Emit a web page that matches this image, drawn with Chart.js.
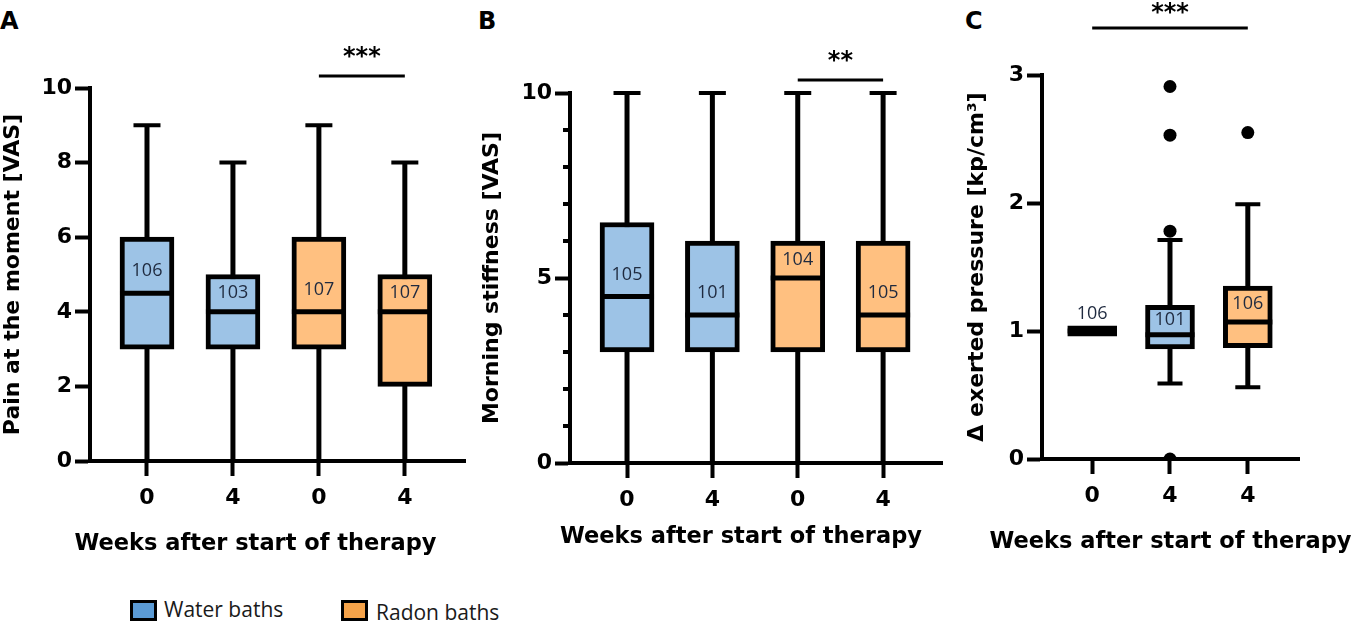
<!DOCTYPE html>
<html>
<head>
<meta charset="utf-8">
<script src="https://cdn.jsdelivr.net/npm/chart.js@4.4.1/dist/chart.umd.min.js"></script>
<style>
    body { margin: 0; background: #fff; width: 1358px; height: 634px; position: relative; overflow: hidden; }
    .panel { position: absolute; top: 0; height: 570px; }
    .letter { position: absolute; top: 9px; font: bold 24px "DejaVu Sans"; line-height: 24px; color: #000; }
    .key { position: absolute; font: 21px "Open Sans"; color: #1a1a1a; line-height: 24px; }
    .swatch { position: absolute; width: 27px; height: 21px; box-sizing: border-box; border: 3px solid #000; }
</style>
</head>
<body>

<div class="letter" style="left:0px">A</div>
<div class="letter" style="left:478px">B</div>
<div class="letter" style="left:965px">C</div>

<div class="panel" style="left:0px;width:475px"><canvas id="chart-a"></canvas></div>
<div class="panel" style="left:479px;width:473px"><canvas id="chart-b"></canvas></div>
<div class="panel" style="left:964px;width:394px"><canvas id="chart-c"></canvas></div>

<div class="swatch" style="left:130px;top:600px;background:#5b9bd5"></div>
<div class="key" style="left:164px;top:597px">Water baths</div>
<div class="swatch" style="left:341px;top:600px;background:#f5a34a"></div>
<div class="key" style="left:376px;top:600px">Radon baths</div>

<script>

/**
 * Box plots: pain, morning stiffness, exerted pressure
 *
 */

// panel A - pain at the moment
var weeksA = ["0", "4", "0", "4"];
var groupsA = ["water", "water", "radon", "radon"];
var minA = [0, 0, 0, 0];
var q1A = [3, 3, 3, 2];
var medA = [4.5, 4, 4, 4];
var q3A = [6, 5, 6, 5];
var maxA = [9, 8, 9, 8];
var nA = [106, 103, 107, 107];
var ticksA = [0, 2, 4, 6, 8, 10];
var sigA = [2, 3, "***"];

// panel B - morning stiffness
var weeksB = ["0", "4", "0", "4"];
var groupsB = ["water", "water", "radon", "radon"];
var minB = [0, 0, 0, 0];
var q1B = [3, 3, 3, 3];
var medB = [4.5, 4, 5, 4];
var q3B = [6.5, 6, 6, 6];
var maxB = [10, 10, 10, 10];
var nB = [105, 101, 104, 105];
var ticksB = [0, 5, 10];
var minorTicksB = [1, 2, 3, 4, 6, 7, 8, 9];
var sigB = [2, 3, "**"];

// panel C - delta exerted pressure
var weeksC = ["0", "4", "4"];
var groupsC = ["both", "water", "radon"];
var minC = [1, 0.59, 0.56];
var q1C = [0.96, 0.86, 0.87];
var medC = [1, 0.97, 1.07];
var q3C = [1.04, 1.2, 1.35];
var maxC = [1, 1.71, 1.99];
var nC = [106, 101, 106];
var outlierXC = [1, 1, 1, 1, 2];
var outlierYC = [2.91, 2.53, 1.78, 0, 2.55];
var ticksC = [0, 1, 2, 3];
var sigC = [0, 2, "***"];

var fills = { water: "#9dc3e6", radon: "#ffc080", both: "#000000" };

Chart.defaults.font.family = "DejaVu Sans";
Chart.defaults.color = "#000";

var boxParts = {
    id: "boxParts",
    beforeDatasetsDraw: function (chart) {
        var o = chart.options.plugins.boxParts;
        var ctx = chart.ctx, x = chart.scales.x, y = chart.scales.y;
        ctx.save();
        ctx.strokeStyle = "#000";
        o.med.forEach(function (m, i) {
            var cx = x.getPixelForValue(i);
            var lo = y.getPixelForValue(o.min[i]);
            var hi = y.getPixelForValue(o.max[i]);
            ctx.lineWidth = 5;
            ctx.beginPath();
            ctx.moveTo(cx, lo);
            ctx.lineTo(cx, hi);
            ctx.stroke();
            ctx.lineWidth = 4;
            ctx.beginPath();
            ctx.moveTo(cx - o.cap / 2, lo);
            ctx.lineTo(cx + o.cap / 2, lo);
            ctx.moveTo(cx - o.cap / 2, hi);
            ctx.lineTo(cx + o.cap / 2, hi);
            ctx.stroke();
        });
        ctx.restore();
    },
    afterDatasetsDraw: function (chart) {
        var o = chart.options.plugins.boxParts;
        var ctx = chart.ctx, x = chart.scales.x, y = chart.scales.y;
        var area = chart.chartArea;
        ctx.save();

        // medians and n labels
        o.med.forEach(function (m, i) {
            var cx = x.getPixelForValue(i);
            var my = y.getPixelForValue(m);
            var ty = y.getPixelForValue(o.q3[i]);
            ctx.strokeStyle = "#000";
            ctx.lineWidth = 5;
            ctx.beginPath();
            ctx.moveTo(cx - o.box / 2, my);
            ctx.lineTo(cx + o.box / 2, my);
            ctx.stroke();

            var gap = my - ty;
            var ly = gap < 10 ? my - 17 : my - Math.min(gap / 2, 22);
            ctx.fillStyle = "#1f2a3f";
            ctx.font = "18px 'Open Sans'";
            ctx.textAlign = "center";
            ctx.textBaseline = "middle";
            ctx.fillText(String(o.n[i]), cx, ly);
        });

        // minor y ticks
        (o.minor || []).forEach(function (v) {
            var py = y.getPixelForValue(v);
            ctx.strokeStyle = "#000";
            ctx.lineWidth = 4;
            ctx.beginPath();
            ctx.moveTo(area.left - 7, py);
            ctx.lineTo(area.left, py);
            ctx.stroke();
        });

        // significance bar
        var x1 = x.getPixelForValue(o.sig[0]);
        var x2 = x.getPixelForValue(o.sig[1]);
        var by = area.top - o.sigGap;
        ctx.strokeStyle = "#000";
        ctx.lineWidth = 3;
        ctx.beginPath();
        ctx.moveTo(x1, by);
        ctx.lineTo(x2, by);
        ctx.stroke();
        ctx.fillStyle = "#000";
        ctx.font = "bold 24px 'DejaVu Sans'";
        ctx.textAlign = "center";
        ctx.textBaseline = "alphabetic";
        ctx.fillText(o.sig[2], (x1 + x2) / 2, by - o.starGap);

        // x axis title
        ctx.font = "bold 22.5px 'DejaVu Sans'";
        ctx.fillText("Weeks after start of therapy", (area.left + area.right) / 2 + o.titleDx, area.bottom + o.titleDy);
        ctx.restore();
    }
};

function boxChart(id, p) {
    var boxes = p.weeks.map(function (w, i) {
        return { x: i, y: [p.q1[i], p.q3[i]] };
    });
    var outliers = (p.outX || []).map(function (v, i) {
        return { x: v, y: p.outY[i] };
    });

    return new Chart(id, {
        type: "bar",
        data: {
            datasets: [{
                type: "scatter",
                data: outliers,
                pointRadius: 6.5,
                backgroundColor: "#000",
                borderWidth: 0,
                order: 0
            }, {
                type: "bar",
                data: boxes,
                backgroundColor: p.groups.map(function (g) { return fills[g]; }),
                borderColor: "#000",
                borderWidth: 5,
                borderSkipped: false,
                barThickness: p.box,
                order: 1
            }]
        },
        options: {
            responsive: true,
            maintainAspectRatio: false,
            animation: false,
            events: [],
            layout: {
                padding: { top: p.top, right: p.right, left: 0, bottom: 0 }
            },
            plugins: {
                legend: { display: false },
                tooltip: { enabled: false },
                boxParts: {
                    min: p.min, med: p.med, max: p.max, q3: p.q3, n: p.n,
                    box: p.box, cap: p.cap, sig: p.sig, sigGap: p.sigGap, starGap: p.starGap,
                    minor: p.minor, titleDx: p.titleDx, titleDy: p.titleDy
                }
            },
            scales: {
                x: {
                    type: "linear",
                    min: p.xMin,
                    max: p.xMax,
                    offset: false,
                    afterBuildTicks: function (s) {
                        s.ticks = p.weeks.map(function (w, i) { return { value: i }; });
                    },
                    afterFit: function (s) { s.height = p.xHeight; },
                    ticks: {
                        autoSkip: false,
                        padding: 9,
                        font: { size: 22, weight: "bold" },
                        callback: function (v) { return p.weeks[v]; }
                    },
                    grid: {
                        offset: false,
                        drawOnChartArea: false,
                        drawTicks: true,
                        tickLength: 15,
                        tickWidth: 4,
                        tickColor: "#000"
                    },
                    border: { display: true, color: "#000", width: 4 }
                },
                y: {
                    min: p.yMin,
                    max: p.yMax,
                    afterBuildTicks: function (s) {
                        s.ticks = p.yTicks.map(function (v) { return { value: v }; });
                    },
                    afterFit: function (s) { s.width = p.yWidth; },
                    ticks: {
                        padding: 3,
                        font: { size: 22, weight: "bold" }
                    },
                    grid: {
                        drawOnChartArea: false,
                        drawTicks: true,
                        tickLength: 15,
                        tickWidth: 4,
                        tickColor: "#000"
                    },
                    border: { display: true, color: "#000", width: 4 },
                    title: {
                        display: true,
                        text: p.yTitle,
                        padding: 0,
                        font: { size: 22, weight: "bold", lineHeight: 1.2 }
                    }
                }
            }
        },
        plugins: [boxParts]
    });
}

boxChart("chart-a", {
    weeks: weeksA, groups: groupsA, min: minA, q1: q1A, med: medA, q3: q3A, max: maxA, n: nA,
    yTicks: ticksA, yMin: 0, yMax: 10, sig: sigA, yTitle: "Pain at the moment [VAS]",
    xMin: -0.663, xMax: 3.70, box: 54, cap: 27,
    top: 88, right: 10, yWidth: 90, xHeight: 109, sigGap: 12, starGap: 12, titleDx: -22, titleDy: 89
});

boxChart("chart-b", {
    weeks: weeksB, groups: groupsB, min: minB, q1: q1B, med: medB, q3: q3B, max: maxB, n: nB,
    yTicks: ticksB, minor: minorTicksB, yMin: 0, yMax: 10, sig: sigB, yTitle: "Morning stiffness [VAS]",
    xMin: -0.668, xMax: 3.69, box: 54, cap: 27,
    top: 93, right: 10, yWidth: 91, xHeight: 107, sigGap: 13, starGap: 12, titleDx: -15, titleDy: 80
});

boxChart("chart-c", {
    weeks: weeksC, groups: groupsC, min: minC, q1: q1C, med: medC, q3: q3C, max: maxC, n: nC,
    outX: outlierXC, outY: outlierYC,
    yTicks: ticksC, yMin: 0, yMax: 3, sig: sigC, yTitle: "\u0394 exerted pressure [kp/cm\u00b3]",
    xMin: -0.645, xMax: 2.658, box: 49, cap: 25,
    top: 75, right: 59, yWidth: 78, xHeight: 111, sigGap: 47, starGap: 8, titleDx: 0, titleDy: 89
});

</script>
</body>
</html>
